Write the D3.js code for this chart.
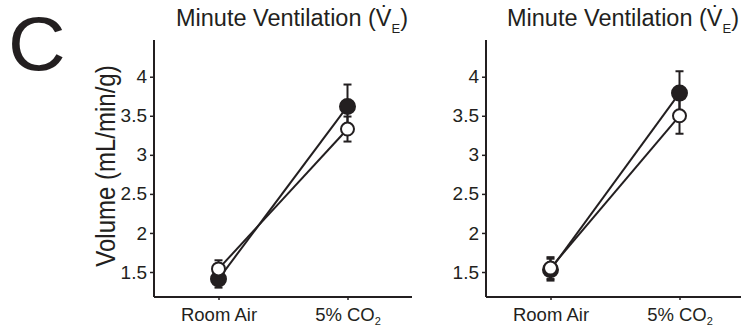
<!DOCTYPE html>
<html><head><meta charset="utf-8">
<script src="https://cdn.jsdelivr.net/npm/d3@7"></script>
<style>
body{margin:0;background:#fff;}
svg text{font-family:"Liberation Sans",Arial,sans-serif;fill:#231f20;}
</style></head>
<body><svg id="chart" width="741" height="332"></svg>
<script>
const categories = ["Room Air", "5% CO2"];
const yTicks = [1.5, 2, 2.5, 3, 3.5, 4];
const panelTitles = ["Minute Ventilation", "Minute Ventilation"];
// panel 1
const p1Filled = [1.41, 3.62];
const p1FilledErr = [0.11, 0.28];
const p1Open = [1.54, 3.33];
const p1OpenErr = [0.11, 0.16];
// panel 2
const p2Filled = [1.53, 3.79];
const p2FilledErr = [0.14, 0.28];
const p2Open = [1.55, 3.50];
const p2OpenErr = [0.14, 0.23];

const panels = [
  {x0: 154, filled: p1Filled, filledErr: p1FilledErr, open: p1Open, openErr: p1OpenErr, title: panelTitles[0], titleX: 176},
  {x0: 486, filled: p2Filled, filledErr: p2FilledErr, open: p2Open, openErr: p2OpenErr, title: panelTitles[1], titleX: 507}
];

const svg = d3.select("#chart");
const ink = "#231f20";
const plotTop = 40, plotBottom = 297, pw = 258;

svg.append("text").attr("x", 8).attr("y", 70).attr("font-size", 76)
  .attr("transform", "translate(8,0) scale(1.05,1) translate(-8,0)")
  .text("C");

svg.append("text")
  .attr("transform", "translate(115,166) rotate(-90) scale(1,1.15)")
  .attr("text-anchor", "middle").attr("font-size", 24)
  .text("Volume (mL/min/g)");

const y = d3.scaleLinear().domain([1.18, 4.47]).range([plotBottom, plotTop]);

panels.forEach(p => {
  const g = svg.append("g");
  const x = d3.scalePoint().domain(categories).range([p.x0, p.x0 + pw]).padding(0.5);

  const ya = g.append("g").attr("transform", `translate(${p.x0},0)`)
    .call(d3.axisLeft(y).tickValues(yTicks).tickFormat(d3.format("~g")).tickSize(4).tickPadding(3));
  ya.select(".domain").attr("d", `M0,${plotTop}V${plotBottom}`).attr("stroke", ink).attr("stroke-width", 2);
  ya.selectAll(".tick line").attr("stroke", ink).attr("stroke-width", 1.5);
  ya.selectAll(".tick text").attr("font-size", 19).attr("fill", ink).attr("font-family", '"Liberation Sans",Arial,sans-serif');

  const xa = g.append("g").attr("transform", `translate(0,${plotBottom})`)
    .call(d3.axisBottom(x).tickSize(3).tickPadding(8));
  xa.select(".domain").attr("d", `M${p.x0},0H${p.x0 + pw}`).attr("stroke", ink).attr("stroke-width", 2);
  xa.selectAll(".tick line").attr("stroke", ink).attr("stroke-width", 1.5);
  xa.selectAll(".tick text").attr("font-size", 18.5).attr("fill", ink)
    .attr("font-family", '"Liberation Sans",Arial,sans-serif')
    .each(function(d) {
      const t = d3.select(this);
      if (d.endsWith("CO2")) {
        t.text(null);
        t.append("tspan").text(d.slice(0, -1));
        t.append("tspan").attr("font-size", 11).attr("dy", 4).text("2");
      }
    });

  const tt = g.append("text").attr("x", p.titleX).attr("y", 26).attr("font-size", 23.5);
  tt.append("tspan").text(p.title + " (V\u0307");
  tt.append("tspan").attr("font-size", 13).attr("dy", 7).text("E");
  tt.append("tspan").attr("dy", -7).text(")");

  const series = [
    {vals: p.filled, err: p.filledErr, fill: ink, r: 7.5},
    {vals: p.open, err: p.openErr, fill: "#fff", r: 6.5}
  ];
  const line = d3.line().x((d, i) => x(categories[i])).y(d => y(d));
  series.forEach(s => {
    g.append("path").attr("d", line(s.vals)).attr("fill", "none").attr("stroke", ink).attr("stroke-width", 2);
  });
  series.forEach(s => {
    const eg = g.append("g");
    s.vals.forEach((v, i) => {
      const cx = x(categories[i]);
      eg.append("line").attr("x1", cx).attr("x2", cx).attr("y1", y(v - s.err[i])).attr("y2", y(v + s.err[i]))
        .attr("stroke", ink).attr("stroke-width", 2);
      [v - s.err[i], v + s.err[i]].forEach(e => {
        eg.append("line").attr("x1", cx - 4).attr("x2", cx + 4).attr("y1", y(e)).attr("y2", y(e))
          .attr("stroke", ink).attr("stroke-width", 2);
      });
      eg.append("circle").attr("cx", cx).attr("cy", y(v)).attr("r", s.r)
        .attr("fill", s.fill).attr("stroke", ink).attr("stroke-width", 2);
    });
  });
});
</script></body></html>
